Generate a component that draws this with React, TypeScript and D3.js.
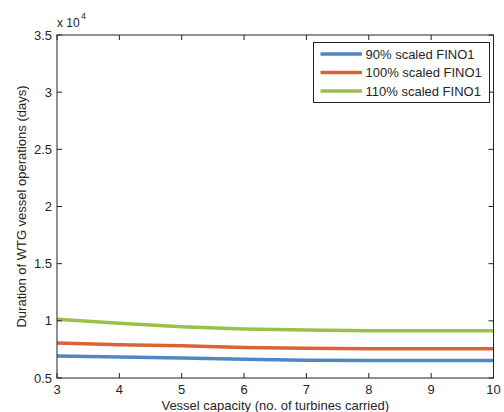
import React from "react";
import * as d3 from "d3";

const capacities = [3, 4, 5, 6, 7, 8, 9, 10];
const series90 = [0.692, 0.684, 0.675, 0.663, 0.656, 0.654, 0.654, 0.654];
const series100 = [0.806, 0.79, 0.783, 0.766, 0.76, 0.756, 0.755, 0.755];
const series110 = [1.013, 0.978, 0.949, 0.929, 0.92, 0.914, 0.914, 0.913];
const seriesNames = ["90% scaled FINO1", "100% scaled FINO1", "110% scaled FINO1"];
const seriesColors = ["#4f86c4", "#dc6335", "#9cc04b"];
const xTicks = [3, 4, 5, 6, 7, 8, 9, 10];
const yTicks = [0.5, 1, 1.5, 2, 2.5, 3, 3.5];

const W = 504;
const H = 412;
const L = 57;
const R = 493.5;
const T = 35;
const B = 378;
const FONT = "'Liberation Sans', Arial, Helvetica, sans-serif";
const TXT = "#262626";

export default function App() {
  const x = d3.scaleLinear().domain([3, 10]).range([L, R]);
  const y = d3.scaleLinear().domain([0.5, 3.5]).range([B, T]);
  const allSeries = [series90, series100, series110];
  const line = d3
    .line<number>()
    .x((_, i) => x(capacities[i]))
    .y((d) => y(d));
  const tick = 5;
  const legX = 313.5;
  const legY = 42.5;
  const legW = 176;
  const legH = 60;

  return (
    <svg
      width={W}
      height={H}
      style={{ position: "absolute", left: 0, top: 0, background: "#fff" }}
      fontFamily={FONT}
    >
      <rect x={0} y={0} width={W} height={H} fill="#fff" />
      {allSeries.map((s, i) => (
        <path
          key={i}
          d={line(s) || ""}
          fill="none"
          stroke={seriesColors[i]}
          strokeWidth={3.5}
          strokeLinejoin="round"
        />
      ))}
      {/* axes box */}
      <rect x={L} y={T} width={R - L} height={B - T} fill="none" stroke="#222" strokeWidth={1} />
      {xTicks.map((t) => (
        <g key={"x" + t}>
          <line x1={x(t)} x2={x(t)} y1={B} y2={B - tick} stroke="#222" />
          <line x1={x(t)} x2={x(t)} y1={T} y2={T + tick} stroke="#222" />
          <text x={x(t)} y={393.5} textAnchor="middle" fontSize={13} fill={TXT}>
            {t}
          </text>
        </g>
      ))}
      {yTicks.map((t) => (
        <g key={"y" + t}>
          <line x1={L} x2={L + tick} y1={y(t)} y2={y(t)} stroke="#222" />
          <line x1={R} x2={R - tick} y1={y(t)} y2={y(t)} stroke="#222" />
          <text x={52} y={y(t) + 4.5} textAnchor="end" fontSize={13} fill={TXT}>
            {t}
          </text>
        </g>
      ))}
      <text x={57} y={26.5} fontSize={12} fill={TXT}>
        x 10
      </text>
      <text x={81} y={19} fontSize={9} fill={TXT}>
        4
      </text>
      <text x={(L + R) / 2} y={410} textAnchor="middle" fontSize={13} fill={TXT}>
        Vessel capacity (no. of turbines carried)
      </text>
      <text
        transform={`translate(25.5, ${(T + B) / 2}) rotate(-90)`}
        textAnchor="middle"
        fontSize={13}
        fill={TXT}
      >
        Duration of WTG vessel operations (days)
      </text>
      {/* legend */}
      <rect x={legX} y={legY} width={legW} height={legH} fill="#fff" stroke="#222" strokeWidth={1} />
      {seriesNames.map((n, i) => {
        const cy = 54 + i * 18.5;
        return (
          <g key={n}>
            <line x1={320.5} x2={362} y1={cy} y2={cy} stroke={seriesColors[i]} strokeWidth={3.5} />
            <text x={365.5} y={cy + 4.5} fontSize={13} fill={TXT}>
              {n}
            </text>
          </g>
        );
      })}
    </svg>
  );
}
